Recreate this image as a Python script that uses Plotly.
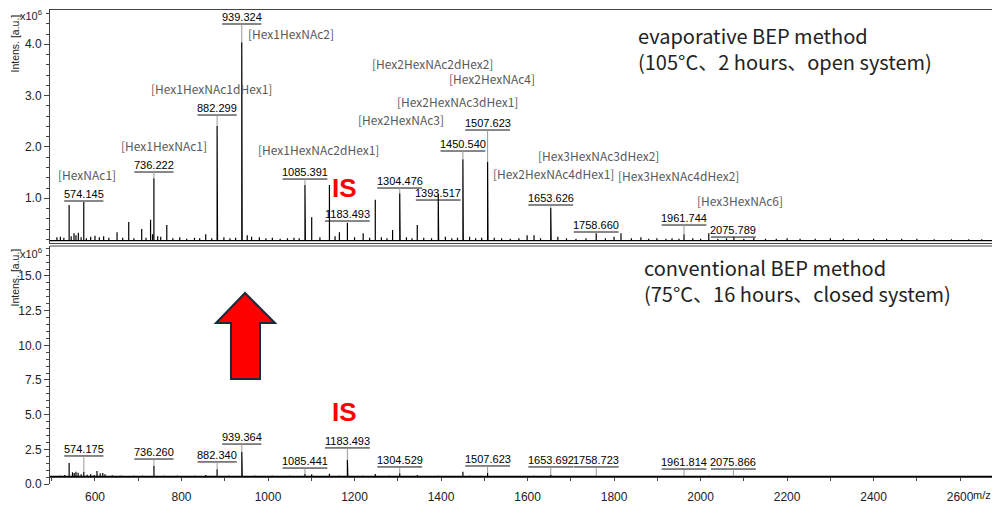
import plotly.graph_objects as go

# ---------------- data ----------------
top_mz = [512, 520, 528, 540.2, 545, 551.5, 556, 561.5, 568, 574.1, 580, 590, 600, 610, 620, 632,
          651, 664, 678, 690, 708, 718, 728.5, 733, 736.2, 745, 752, 766, 780, 796, 812, 830, 842,
          856, 870, 882.3, 883.3, 898, 912, 925, 939.3, 940.3, 952, 962, 980, 995, 1010, 1028, 1045,
          1060, 1072, 1085.4, 1086.4, 1101, 1120, 1142, 1155, 1165, 1183.5, 1200, 1220, 1235, 1248,
          1262, 1275, 1288, 1304.5, 1305.5, 1320, 1333, 1345, 1360, 1378, 1393.5, 1394.5, 1410, 1425,
          1438, 1450.5, 1451.5, 1466, 1480, 1494, 1507.6, 1508.6, 1523, 1540, 1560, 1580, 1599, 1615,
          1630, 1653.6, 1654.6, 1670, 1690, 1712, 1735, 1758.7, 1780, 1800, 1816, 1840, 1862, 1880,
          1899, 1920, 1934, 1950, 1961.7, 1982, 2000, 2019, 2040, 2060, 2077, 2100, 2123, 2150, 2175,
          2200, 2230, 2265, 2300, 2330, 2365, 2400, 2430, 2465, 2500, 2540, 2580, 2620, 2650]
top_int = [0.24, 0.25, 0.23, 0.87, 0.26, 0.32, 0.28, 0.33, 0.24, 0.93, 0.22, 0.25, 0.27, 0.24, 0.26, 0.23,
           0.34, 0.23, 0.54, 0.22, 0.40, 0.23, 0.58, 0.30, 1.39, 0.26, 0.25, 0.48, 0.22, 0.24, 0.21, 0.23, 0.22,
           0.30, 0.22, 2.41, 1.20, 0.24, 0.22, 0.23, 4.04, 2.60, 0.28, 0.25, 0.24, 0.22, 0.23, 0.21, 0.22,
           0.23, 0.22, 1.26, 0.55, 0.63, 0.24, 1.26, 0.26, 0.34, 0.52, 0.24, 0.32, 0.23, 0.97,
           0.24, 0.22, 0.38, 1.10, 0.50, 0.24, 0.22, 0.48, 0.23, 0.22, 1.08, 0.45, 0.25, 0.22,
           0.23, 1.76, 0.85, 0.25, 0.22, 0.23, 1.71, 0.85, 0.23, 0.22, 0.21, 0.22, 0.28, 0.28,
           0.22, 0.81, 0.35, 0.25, 0.22, 0.21, 0.22, 0.32, 0.22, 0.25, 0.32, 0.22, 0.24, 0.21,
           0.22, 0.21, 0.22, 0.21, 0.30, 0.22, 0.21, 0.32, 0.21, 0.22, 0.25, 0.21, 0.23, 0.21, 0.21,
           0.22, 0.21, 0.21, 0.22, 0.21, 0.21, 0.21, 0.21, 0.21, 0.21, 0.20, 0.20, 0.20, 0.20]

bot_mz = [520, 530, 540.2, 548, 552, 556, 561, 568, 574.2, 582, 590, 598, 604.6, 612, 618, 623,
          640, 660, 690, 710, 736.3, 760, 790, 830, 856, 882.3, 910, 939.4, 940.4, 970, 1010, 1050,
          1085.4, 1101, 1142, 1165, 1183.5, 1184.5, 1220, 1248, 1280, 1304.5, 1345, 1393.5, 1450.5,
          1466, 1507.6, 1560, 1615, 1653.7, 1700, 1758.7, 1816, 1900, 1961.8, 2019, 2075.9, 2150]
bot_int = [0.62, 0.64, 1.51, 0.85, 0.80, 0.88, 0.82, 0.70, 0.86, 0.66, 0.70, 0.65, 0.94, 0.78, 0.80, 0.70,
           0.63, 0.62, 0.61, 0.62, 1.30, 0.62, 0.61, 0.62, 0.64, 1.06, 0.61, 2.33, 1.20, 0.62, 0.61, 0.61,
           0.72, 0.70, 0.74, 0.62, 1.73, 0.95, 0.62, 0.72, 0.61, 0.78, 0.64, 0.62, 0.88,
           0.62, 0.82, 0.60, 0.61, 0.66, 0.60, 0.62, 0.60, 0.60, 0.61, 0.61, 0.60, 0.60]

top_base = 0.175
bot_base = 0.55

# number labels: text, underline level
top_num_text = ["574.145", "736.222", "882.299", "939.324", "1085.391", "1183.493", "1304.476",
                "1393.517", "1450.540", "1507.623", "1653.626", "1758.660", "1961.744", "2075.789"]
top_num_bar = [0.947, 1.512, 2.622, 4.395, 1.375, 0.557, 1.200, 0.966, 1.921, 2.330, 0.869, 0.343, 0.479, 0.245]

bot_num_text = ["574.175", "736.260", "882.340", "939.364", "1085.441", "1183.493", "1304.529",
                "1507.623", "1653.692", "1758.723", "1961.814", "2075.866"]
bot_num_bar = [2.02, 1.80, 1.59, 2.88, 1.15, 2.60, 1.23, 1.30, 1.23, 1.23, 1.08, 1.08]

# composition labels: text, m/z centre, level
comp_text = ["[HexNAc1]", "[Hex1HexNAc1]", "[Hex1HexNAc1dHex1]", "[Hex1HexNAc2]", "[Hex1HexNAc2dHex1]",
             "[Hex2HexNAc2dHex2]", "[Hex2HexNAc4]", "[Hex2HexNAc3dHex1]", "[Hex2HexNAc3]",
             "[Hex2HexNAc4dHex1]", "[Hex3HexNAc3dHex2]", "[Hex3HexNAc4dHex2]", "[Hex3HexNAc6]"]
comp_x = [581.5, 759, 870, 1052, 1117, 1380, 1518.5, 1437.7, 1308.5, 1659, 1765, 1950, 2091]
comp_y = [1.473, 2.038, 3.148, 4.22, 1.96, 3.635, 3.324, 2.895, 2.544, 1.492, 1.843, 1.453, 0.966]

x_ticks = [600, 800, 1000, 1200, 1400, 1600, 1800, 2000, 2200, 2400, 2600]
x_range = [496, 2676]
top_range = [0.129, 4.668]
bot_range = [0.0, 17.16]

# ---------------- geometry helpers (page pixels; the page body adds an 8px offset) ----------------
OFF = 8
W, H = 1000, 518
# desired plot area in page pixels: x 50..993, y 10..484
ML = 50 - OFF
MT = 10 - OFF
MR = W - (993 - OFF)
MB = H - (484 - OFF)
PW, PH = W - ML - MR, H - MT - MB


def px_x(p):
    return (p - OFF - ML) / PW


def px_y(p):
    return (H - MB - (p - OFF)) / PH


top_dom = [px_y(243), 1.0]
bot_dom = [0.0, px_y(246)]
units_per_px = (x_range[1] - x_range[0]) / PW


def stick_path(mz, inten, base):
    pts = sorted(zip(mz, inten))
    xs, ys = [x_range[0]], [base]
    for m, v in pts:
        xs += [m, m, m]
        ys += [base, v, base]
    xs.append(x_range[1])
    ys.append(base)
    return xs, ys


fig = go.Figure()
tx, ty = stick_path(top_mz, top_int, top_base)
fig.add_trace(go.Scatter(x=tx, y=ty, mode="lines", line=dict(color="black", width=1.2),
                         xaxis="x", yaxis="y", showlegend=False, hoverinfo="skip"))
bx, by = stick_path(bot_mz, bot_int, bot_base)
fig.add_trace(go.Scatter(x=bx, y=by, mode="lines", line=dict(color="black", width=1.2),
                         xaxis="x2", yaxis="y2", showlegend=False, hoverinfo="skip"))
fig.add_trace(go.Scatter(x=[None], y=[None], xaxis="x3", yaxis="y2", showlegend=False, hoverinfo="skip"))

shapes = []
annotations = []
NUM_FONT = dict(family="Liberation Sans, Arial", size=11, color="black")


def peak_height(mz_list, int_list, m):
    best = min(range(len(mz_list)), key=lambda i: (abs(mz_list[i] - m), -int_list[i]))
    return int_list[best]


def add_num_labels(texts, bars, mz_list, int_list, xr, yr):
    for t, b in zip(texts, bars):
        m = float(t)
        hw = 2.8 * len(t) * units_per_px
        shapes.append(dict(type="line", xref=xr, yref=yr, x0=m - hw, x1=m + hw, y0=b, y1=b,
                           line=dict(color="#111", width=1)))
        h = peak_height(mz_list, int_list, m)
        if h < b:
            shapes.append(dict(type="line", xref=xr, yref=yr, x0=m, x1=m, y0=b, y1=h,
                               line=dict(color="#999", width=1)))
        annotations.append(dict(text=t, x=m, y=b, xref=xr, yref=yr, xanchor="center", yanchor="bottom",
                                showarrow=False, font=NUM_FONT, borderpad=0))


add_num_labels(top_num_text, top_num_bar, top_mz, top_int, "x", "y")
add_num_labels(bot_num_text, bot_num_bar, bot_mz, bot_int, "x2", "y2")

for t, x, y in zip(comp_text, comp_x, comp_y):
    annotations.append(dict(text=t, x=x, y=y, xref="x", yref="y", xanchor="center", yanchor="middle",
                            showarrow=False, font=dict(family="Noto Sans CJK JP", size=12, color="#5a5a5a")))

# IS labels
IS_FONT = dict(family="Liberation Sans, Arial", size=26, color="#ff0000", weight="bold")
annotations.append(dict(text="<b>IS</b>", x=1177, y=1.20, xref="x", yref="y", showarrow=False,
                        xanchor="center", yanchor="middle", font=IS_FONT))
annotations.append(dict(text="<b>IS</b>", x=1177, y=5.19, xref="x2", yref="y2", showarrow=False,
                        xanchor="center", yanchor="middle", font=IS_FONT))

# method titles
TITLE_FONT = dict(family="Noto Sans CJK JP", size=20, color="#222")
for txt, xp, yp in [("evaporative BEP method<br>(105°C、2 hours、open system)", 637, 48.5),
                    ("conventional BEP method<br>(75°C、16 hours、closed system)", 643, 280.5)]:
    annotations.append(dict(text=txt, x=px_x(xp), y=px_y(yp), xref="paper", yref="paper", align="left",
                            xanchor="left", yanchor="middle", showarrow=False, font=TITLE_FONT, borderpad=0))

# axis decorations
SMALL = dict(family="Liberation Sans, Arial", size=11, color="#222")
for yp in (15, 253):
    annotations.append(dict(text="x10<sup>6</sup>", x=px_x(18), y=px_y(yp), xref="paper", yref="paper",
                            xanchor="left", yanchor="middle", showarrow=False, font=SMALL))
for yp in (44, 278):
    annotations.append(dict(text="Intens. [a.u.]", x=px_x(14.5), y=px_y(yp), xref="paper", yref="paper",
                            xanchor="center", yanchor="middle", textangle=-90, showarrow=False,
                            font=dict(family="Liberation Sans, Arial", size=10.5, color="#222"), borderpad=0))
annotations.append(dict(text="m/z", x=px_x(982), y=px_y(495), xref="paper", yref="paper",
                        xanchor="center", yanchor="middle", showarrow=False, font=SMALL))

# bottom panel top border
shapes.append(dict(type="line", xref="paper", yref="paper", x0=0, x1=1, y0=bot_dom[1], y1=bot_dom[1],
                   line=dict(color="#444", width=1)))

# red arrow
arrow_px = [(245, 293), (275, 323), (260, 323), (260, 379), (231, 379), (231, 323), (216, 323)]
path = "M " + " L ".join(f"{px_x(a):.4f},{px_y(b):.4f}" for a, b in arrow_px) + " Z"
shapes.append(dict(type="path", xref="paper", yref="paper", path=path, fillcolor="#ff0000",
                   line=dict(color="#1b2a3a", width=2)))

AX_LINE = "#444"
TICKF = dict(family="Liberation Sans, Arial", size=12, color="#222")
fig.update_layout(
    width=W, height=H, margin=dict(l=ML, r=MR, t=MT, b=MB, autoexpand=False),
    paper_bgcolor="white", plot_bgcolor="white", showlegend=False,
    xaxis=dict(domain=[0, 1], range=x_range, anchor="y", showticklabels=False, ticks="", automargin=False,
               showline=True, mirror=True, linecolor=AX_LINE, linewidth=1, showgrid=False, zeroline=False),
    yaxis=dict(domain=top_dom, range=top_range, anchor="x", tickvals=[1, 2, 3, 4], tickformat=".1f",
               ticks="outside", ticklen=5, tickcolor=AX_LINE, tickfont=TICKF, automargin=False,
               minor=dict(dtick=0.2, tick0=0, ticks="outside", ticklen=3, tickcolor=AX_LINE),
               showline=True, mirror=True, linecolor=AX_LINE, linewidth=1, showgrid=False, zeroline=False),
    xaxis2=dict(domain=[0, 1], range=x_range, anchor="y2", tickvals=x_ticks, ticks="", tickfont=TICKF,
                ticklabelstandoff=4,
                automargin=False, showline=False, showgrid=False, zeroline=False),
    xaxis3=dict(range=x_range, overlaying="x2", anchor="free", position=px_y(477), side="bottom",
                showticklabels=False, ticks="outside", ticklen=3, dtick=100, tick0=0, tickcolor=AX_LINE,
                automargin=False, showline=True, linecolor=AX_LINE, linewidth=1, showgrid=False, zeroline=False),
    yaxis2=dict(domain=bot_dom, range=bot_range, anchor="x2", dtick=2.5, tick0=0, tickformat=".1f",
                ticks="outside", ticklen=5, tickcolor=AX_LINE, tickfont=TICKF, automargin=False,
                minor=dict(dtick=0.5, tick0=0, ticks="outside", ticklen=3, tickcolor=AX_LINE),
                showline=True, mirror=True, linecolor=AX_LINE, linewidth=1, showgrid=False, zeroline=False),
    shapes=shapes, annotations=annotations,
)

fig.write_html("out.html")
